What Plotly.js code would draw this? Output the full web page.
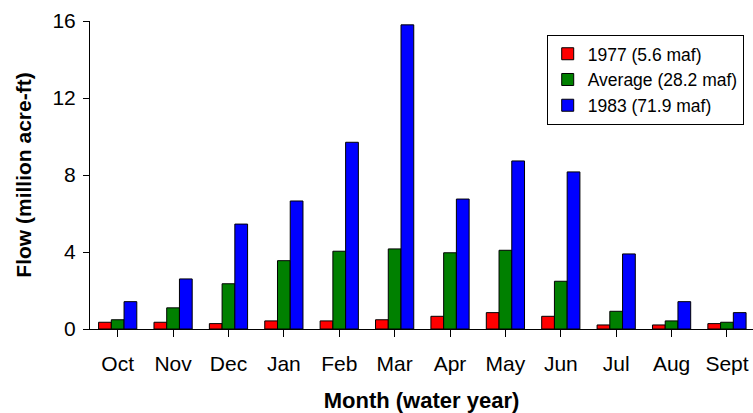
<!DOCTYPE html>
<html><head><meta charset="utf-8">
<script src="https://cdn.plot.ly/plotly-3.0.1.min.js"></script>
<style>body{margin:0;background:#fff}#c{width:753px;height:413px}</style>
</head><body><div id="c"></div>
<script>
const months = ["Oct","Nov","Dec","Jan","Feb","Mar","Apr","May","Jun","Jul","Aug","Sept"];
const y1977 = [0.35,0.35,0.28,0.42,0.42,0.48,0.66,0.85,0.66,0.21,0.21,0.28];
const yAvg  = [0.48,1.1,2.35,3.55,4.04,4.16,3.96,4.09,2.48,0.92,0.42,0.35];
const y1983 = [1.42,2.6,5.45,6.65,9.7,15.8,6.75,8.73,8.16,3.9,1.42,0.85];
const names = ["1977 (5.6 maf)","Average (28.2 maf)","1983 (71.9 maf)"];
const colors = ["#ff0000","#008000","#0000ff"];
const series = [y1977,yAvg,y1983];
const xi = months.map((_,i)=>i);
const data = series.map((s,k)=>({
  type:"bar", x:xi, y:s, name:names[k],
  marker:{color:colors[k], line:{color:"#000", width:1}}
}));
const layout = {
  width:753, height:413,
  margin:{l:90,r:0,t:21,b:84},
  paper_bgcolor:"#fff", plot_bgcolor:"#fff",
  font:{family:"Liberation Sans, Arial, sans-serif", color:"#000"},
  barmode:"group", bargap:0.31, bargroupgap:0,
  showlegend:true,
  legend:{x:0.986, y:0.955, xanchor:"right", yanchor:"top", bordercolor:"#000", borderwidth:1,
          font:{size:17.5}, tracegroupgap:0, itemwidth:30, bgcolor:"#fff"},
  xaxis:{range:[-0.5,11.47], tickmode:"array", tickvals:xi, ticktext:months,
         showline:true, linecolor:"#000", linewidth:1, ticks:"outside", ticklen:7, tickcolor:"#000",
         tickson:"boundaries", showgrid:false, zeroline:false, tickfont:{size:21},
         ticklabelstandoff:9,
         title:{text:"<b>Month (water year)</b>", font:{size:22}, standoff:18}},
  yaxis:{range:[0,16], tickvals:[0,4,8,12,16], showline:true, linecolor:"#000", linewidth:1,
         ticks:"outside", ticklen:6, tickcolor:"#000", showgrid:false, zeroline:false,
         tickfont:{size:21}, ticklabelstandoff:3,
         title:{text:"<b>Flow (million acre-ft)</b>", font:{size:21}, standoff:15}}
};
Plotly.newPlot("c", data, layout, {displayModeBar:false});
</script></body></html>
